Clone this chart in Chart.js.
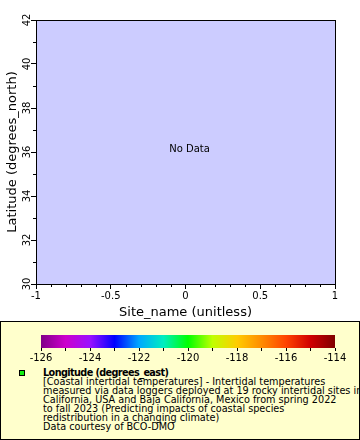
<!DOCTYPE html>
<html>
<head>
<meta charset="utf-8">
<script src="https://cdn.jsdelivr.net/npm/chart.js@4"></script>
<style>
    body { margin: 0; background: #fff; font-family: 'DejaVu Sans', sans-serif; }
    #wrap { position: relative; width: 360px; height: 440px; overflow: hidden; }
    #plot { position: absolute; left: 0; top: 0; }
    #legend {
        position: absolute; left: 0; top: 321px; width: 360px; height: 119px;
        box-sizing: border-box; border: 1px solid #000; background: #ffffcc; overflow: hidden;
    }
    #bar { position: absolute; left: 0; top: 321px; }
    #mark {
        position: absolute; left: 18px; top: 48px; width: 6px; height: 6px;
        box-sizing: border-box; border: 1px solid #000; background: #11ee11;
    }
    #ltext {
        position: absolute; left: 42px; top: 46px; font-size: 9.7px; line-height: 9px;
        white-space: nowrap; color: #000;
    }
    #ltext .b { font-weight: bold; letter-spacing: -0.6px; }
</style>
</head>
<body>
<div id="wrap">
    <canvas id="plot" width="360" height="320"></canvas>
    <div id="legend">
        <div id="mark"></div>
        <div id="ltext">
            <div class="b">Longitude (degrees_east)</div>
            <div>[Coastal intertidal temperatures] - Intertidal temperatures</div>
            <div>measured via data loggers deployed at 19 rocky intertidal sites in</div>
            <div>California, USA and Baja California, Mexico from spring 2022</div>
            <div>to fall 2023 (Predicting impacts of coastal species</div>
            <div>redistribution in a changing climate)</div>
            <div>Data courtesy of BCO-DMO</div>
        </div>
    </div>
    <canvas id="bar" width="360" height="50"></canvas>
</div>
<script>
// Data: the query returned no rows, so the series are empty
const siteName = [];
const latitude = [];
const longitude = [];

// Axis ranges and label steps
const xRange = [-1, 1];
const yRange = [30, 42];
const xLabelStep = 0.5;
const yLabelStep = 2;

// Colour bar (longitude, degrees_east)
const colorRange = [-126, -114];
const colorStops = [-126, -125, -124, -123, -122, -121, -120, -119, -118, -117, -116, -115, -114];
const colorValues = ['#800088', '#cc00cc', '#9a10ff', '#0000ff', '#00a8ff', '#00eec0', '#00ff00',
                     '#c0ff00', '#ffcc00', '#ff8c00', '#ff4400', '#d00000', '#800000'];

const FONT = 'DejaVu Sans';


//////////////////////////////
//      Plot decorations    //
//////////////////////////////
const plotFrame = {
    id: 'plotFrame',
    beforeDraw(chart) {
        const {ctx, chartArea: a} = chart;
        ctx.save();
        ctx.fillStyle = '#ccccff';
        ctx.fillRect(a.left, a.top, a.right - a.left, a.bottom - a.top);
        ctx.restore();
    },
    afterDraw(chart) {
        const {ctx, chartArea: a, scales: {x, y}} = chart;
        ctx.save();
        ctx.strokeStyle = '#000';
        ctx.lineWidth = 1;
        ctx.strokeRect(a.left + 0.5, a.top + 0.5, a.right - a.left, a.bottom - a.top);

        // Minor ticks
        ctx.beginPath();
        for (let i = xRange[0] * 10; i <= xRange[1] * 10; i++) {
            if (i % 5 === 0) continue;
            const px = Math.round(x.getPixelForValue(i / 10)) + 0.5;
            ctx.moveTo(px, a.bottom);
            ctx.lineTo(px, a.bottom + 3);
        }
        for (let v = yRange[0] + 1; v < yRange[1]; v += 2) {
            const py = Math.round(y.getPixelForValue(v)) + 0.5;
            ctx.moveTo(a.left - 3, py);
            ctx.lineTo(a.left, py);
        }
        ctx.stroke();

        // Y tick labels are drawn sideways
        ctx.fillStyle = '#000';
        ctx.font = `10px "${FONT}"`;
        ctx.textAlign = 'center';
        ctx.textBaseline = 'middle';
        for (const t of y.ticks) {
            ctx.save();
            ctx.translate(a.left - 9, y.getPixelForValue(t.value));
            ctx.rotate(-Math.PI / 2);
            ctx.fillText(String(t.value), 0, 0);
            ctx.restore();
        }

        if (siteName.length === 0) {
            ctx.fillText('No Data', (a.left + a.right) / 2 + 4, (a.top + a.bottom) / 2 - 3);
        }
        ctx.restore();
    }
};

const colorBar = {
    id: 'colorBar',
    beforeDatasetsDraw(chart) {
        const {ctx, chartArea: a, scales: {x}} = chart;
        const grad = ctx.createLinearGradient(a.left, 0, a.right, 0);
        colorStops.forEach((v, i) => {
            grad.addColorStop((x.getPixelForValue(v) - a.left) / (a.right - a.left), colorValues[i]);
        });
        ctx.save();
        ctx.fillStyle = grad;
        ctx.fillRect(a.left, a.top, a.right - a.left, a.bottom - a.top);
        ctx.restore();
    }
};


//////////////////////////////
//          Charts          //
//////////////////////////////
new Chart(document.getElementById('plot'), {
    type: 'scatter',
    data: {
        datasets: [{
            label: 'Longitude (degrees_east)',
            data: siteName.map((s, i) => ({x: s, y: latitude[i], lon: longitude[i]})),
            pointBackgroundColor: '#11ee11'
        }]
    },
    options: {
        responsive: false,
        animation: false,
        layout: {padding: {top: 20, right: 25, left: 0, bottom: 0}},
        plugins: {
            legend: {display: false},
            tooltip: {enabled: false}
        },
        scales: {
            x: {
                type: 'linear',
                min: xRange[0],
                max: xRange[1],
                afterFit: (s) => { s.height = 36; },
                ticks: {
                    stepSize: xLabelStep,
                    autoSkip: false,
                    maxRotation: 0,
                    padding: 1,
                    color: '#000',
                    font: {family: FONT, size: 10},
                    callback: (v) => String(v)
                },
                grid: {drawOnChartArea: false, tickLength: 5, tickColor: '#000'},
                border: {display: false},
                title: {
                    display: true,
                    text: 'Site_name (unitless)',
                    color: '#000',
                    font: {family: FONT, size: 13},
                    padding: 0
                }
            },
            y: {
                type: 'linear',
                min: yRange[0],
                max: yRange[1],
                afterFit: (s) => { s.width = 36; },
                ticks: {stepSize: yLabelStep, display: false},
                grid: {drawOnChartArea: false, tickLength: 5, tickColor: '#000'},
                border: {display: false},
                title: {
                    display: true,
                    text: 'Latitude (degrees_north)',
                    color: '#000',
                    font: {family: FONT, size: 13},
                    padding: {top: 5, bottom: 0}
                }
            }
        }
    },
    plugins: [plotFrame]
});

new Chart(document.getElementById('bar'), {
    type: 'scatter',
    data: {datasets: []},
    options: {
        responsive: false,
        animation: false,
        layout: {padding: {top: 14, right: 25, left: 41, bottom: 0}},
        plugins: {
            legend: {display: false},
            tooltip: {enabled: false}
        },
        scales: {
            x: {
                type: 'linear',
                min: colorRange[0],
                max: colorRange[1],
                afterFit: (s) => { s.height = 23; },
                ticks: {
                    stepSize: 1,
                    autoSkip: false,
                    maxRotation: 0,
                    padding: 1,
                    color: '#000',
                    font: {family: FONT, size: 10},
                    callback: (v) => (v % 2 === 0 ? String(v) : '')
                },
                grid: {drawOnChartArea: false, tickLength: 3, tickColor: '#000'},
                border: {display: false}
            },
            y: {display: false, min: 0, max: 1}
        }
    },
    plugins: [colorBar]
});
</script>
</body>
</html>
